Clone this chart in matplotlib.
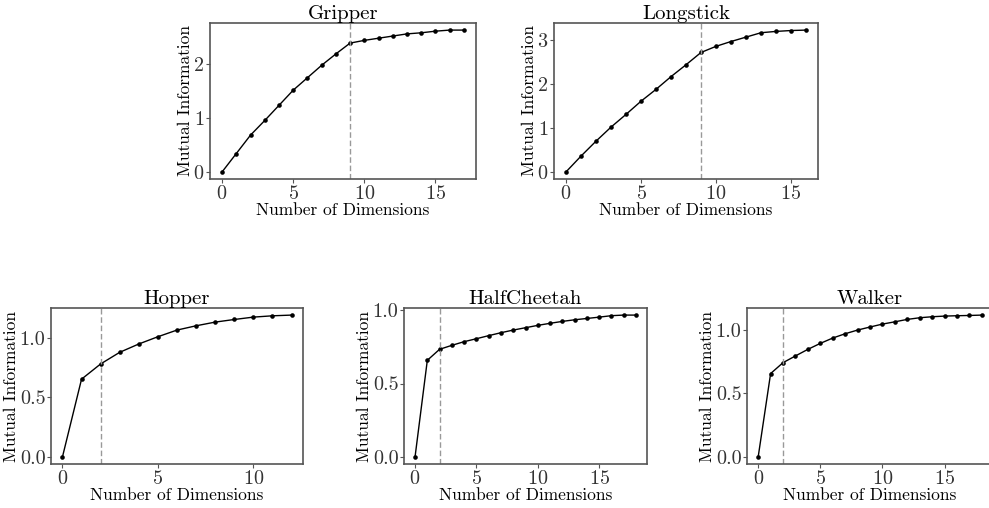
import matplotlib
matplotlib.use('Agg')
import matplotlib.pyplot as plt
import numpy as np

plt.rcParams['font.family'] = 'serif'
plt.rcParams['font.serif'] = ['cmr10', 'DejaVu Serif']
plt.rcParams['mathtext.fontset'] = 'cm'
plt.rcParams['axes.formatter.use_mathtext'] = True

# mutual information per number of dimensions
gripper = [0.0, 0.34, 0.68, 0.95, 1.23, 1.51, 1.74, 1.97, 2.18, 2.38,
           2.43, 2.47, 2.51, 2.55, 2.57, 2.60, 2.62, 2.62]
longstick = [0.0, 0.36, 0.70, 1.02, 1.31, 1.61, 1.88, 2.17, 2.44, 2.72,
             2.86, 2.97, 3.07, 3.17, 3.20, 3.22, 3.23]
hopper = [0.0, 0.654, 0.782, 0.880, 0.950, 1.011, 1.067, 1.103, 1.134,
          1.156, 1.176, 1.187, 1.193]
halfcheetah = [0.0, 0.658, 0.733, 0.760, 0.785, 0.805, 0.826, 0.846, 0.864,
               0.880, 0.896, 0.910, 0.923, 0.934, 0.943, 0.952, 0.962, 0.966, 0.966]
walker = [0.0, 0.657, 0.743, 0.796, 0.848, 0.895, 0.937, 0.971, 1.000,
          1.024, 1.047, 1.065, 1.084, 1.097, 1.105, 1.110, 1.113, 1.115, 1.118]

titles = ['Gripper', 'Longstick', 'Hopper', 'HalfCheetah', 'Walker']
series = [gripper, longstick, hopper, halfcheetah, walker]
cutoffs = [9, 9, 2, 2, 2]
yticks = [[0, 1, 2], [0, 1, 2, 3], [0.0, 0.5, 1.0], [0.0, 0.5, 1.0], [0.0, 0.5, 1.0]]

W, H = 989, 508
# axes boxes in pixels: left, top, right, bottom
boxes = [(210, 23, 476, 179), (554, 23, 818, 179),
         (51, 308, 303, 464), (404, 308, 647, 464), (747, 308, 993, 464)]

fig = plt.figure(figsize=(W / 100, H / 100), dpi=100)

for title, vals, cut, yt, (l, t, r, b) in zip(titles, series, cutoffs, yticks, boxes):
    ax = fig.add_axes([l / W, 1 - b / H, (r - l) / W, (b - t) / H])
    x = np.arange(len(vals))
    ax.plot(x, vals, color='black', linewidth=1.0, marker='o',
            markersize=3.3, markeredgewidth=0)
    ax.axvline(cut, color='#999999', linestyle=(0, (4, 2)), linewidth=1.0)
    ax.set_title(title, fontsize=15, pad=2)
    ax.set_xlabel('Number of Dimensions', fontsize=12.5, labelpad=0)
    ax.set_ylabel('Mutual Information', fontsize=12.5, labelpad=0.5)
    ax.set_yticks(yt)
    if isinstance(yt[0], float):
        ax.set_yticklabels(['%.1f' % v for v in yt])
    ax.set_xticks([v for v in [0, 5, 10, 15] if v < len(vals)])
    for s in ax.spines.values():
        s.set_color('#555555')
        s.set_linewidth(1.2)
    ax.tick_params(colors='#555555', labelcolor='#333333', labelsize=14.5,
                   length=3, width=0.8, pad=1)

fig.savefig('out.png', dpi=100)
